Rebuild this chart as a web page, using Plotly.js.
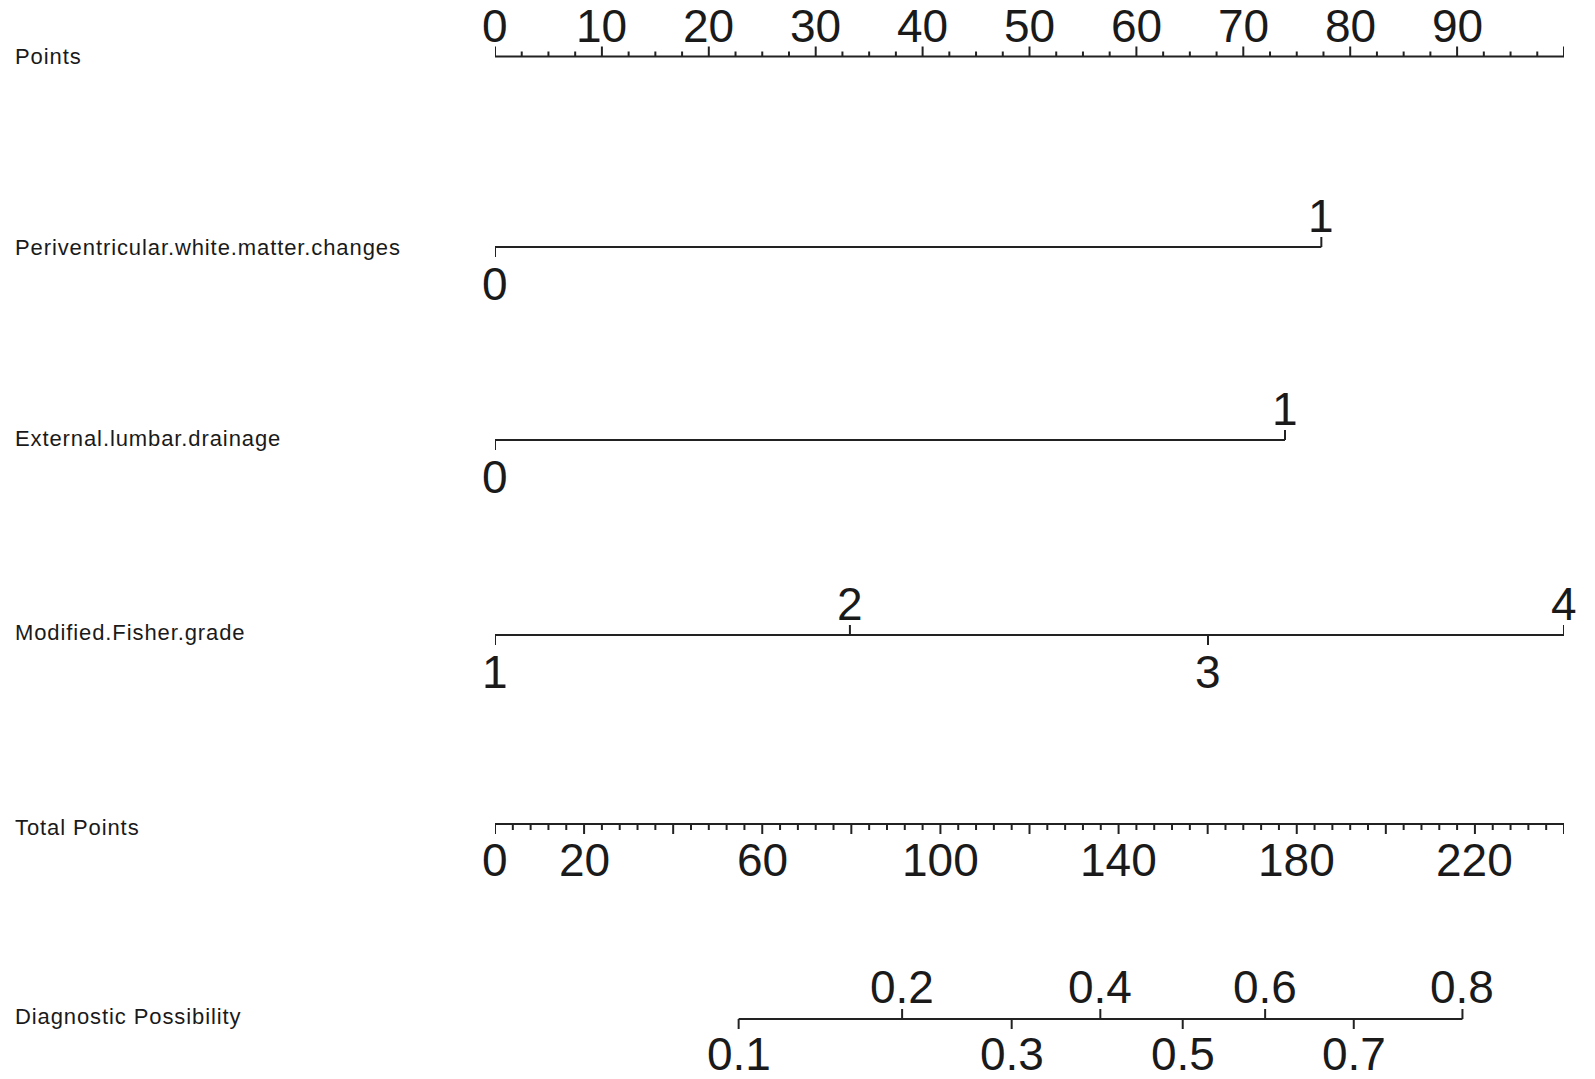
<!DOCTYPE html>
<html>
<head>
<meta charset="utf-8">
<script src="https://cdn.plot.ly/plotly-3.0.1.min.js"></script>
<style>
  html, body { margin: 0; padding: 0; background: #fff; }
  #chart { width: 1595px; height: 1079px; }
</style>
</head>
<body>
<div id="chart"></div>
<script>
// nomogram: every variable is read on the 0-100 "Points" scale

const rowLabels = ['Points', 'Periventricular.white.matter.changes', 'External.lumbar.drainage',
                   'Modified.Fisher.grade', 'Total Points', 'Diagnostic Possibility'];

// Points scale
const pointsMajor = [0, 10, 20, 30, 40, 50, 60, 70, 80, 90, 100];
const pointsLabels = ['0', '10', '20', '30', '40', '50', '60', '70', '80', '90', ''];
const pointsMinorStep = 2.5;

// variables: level labels and points
const pwmcLevels = ['0', '1'];
const pwmcPoints = [0, 77.3];
const pwmcSide = ['below', 'above'];

const eldLevels = ['0', '1'];
const eldPoints = [0, 73.9];
const eldSide = ['below', 'above'];

const fisherLevels = ['1', '2', '3', '4'];
const fisherPoints = [0, 33.2, 66.7, 100];
const fisherSide = ['below', 'above', 'below', 'above'];

// total points scale
const totalMax = 240;
const totalMajor = [0, 20, 40, 60, 80, 100, 120, 140, 160, 180, 200, 220, 240];
const totalLabels = ['0', '20', '', '60', '', '100', '', '140', '', '180', '', '220', ''];
const totalMinorStep = 4;

// probability scale (total points at each probability)
const probLabels = ['0.1', '0.2', '0.3', '0.4', '0.5', '0.6', '0.7', '0.8'];
const probTotals = [54.7, 91.4, 116.0, 135.9, 154.4, 172.9, 192.8, 217.2];
const probSide = ['below', 'above', 'below', 'above', 'below', 'above', 'below', 'above'];

// layout of rows (pixel y of each axis line, y axis is in pixels)
const ROW_Y = [56.5, 247, 440, 635, 824, 1019];
const LABEL_Y = [56, 247, 438.5, 632, 827, 1016];
const TICK_FONT = { family: 'Liberation Sans, Arial, sans-serif', size: 46, color: '#1a1a1a' };
const LEFT_FONT = { family: 'Liberation Sans, Arial, sans-serif', size: 22, color: '#1a1a1a' };
const LINE = { color: '#222', width: 2 };

const toPts = t => t * 100 / totalMax;

const traces = [];
const annotations = [];

function addSegments(xs, ys) {
    traces.push({
        x: xs, y: ys, mode: 'lines', type: 'scatter',
        line: LINE, hoverinfo: 'skip', showlegend: false,
    });
}

function addLabel(x, y, text) {
    if (!text) return;
    annotations.push({
        x: x, y: y, xref: 'x', yref: 'y', text: text, showarrow: false,
        font: TICK_FONT, xanchor: 'center', yanchor: 'middle',
    });
}

// generic axis line with ticks; dir = -1 ticks up, +1 ticks down
function drawScale(rowY, xs, lens, dirs) {
    const lx = [Math.min(...xs), Math.max(...xs), null];
    const ly = [rowY, rowY, null];
    xs.forEach((x, i) => {
        lx.push(x, x, null);
        ly.push(rowY, rowY + dirs[i] * lens[i], null);
    });
    addSegments(lx, ly);
}

// Points row
(function () {
    const xs = [], lens = [], dirs = [];
    for (let v = 0; v <= 100 + 1e-9; v += pointsMinorStep) {
        const major = pointsMajor.some(m => Math.abs(m - v) < 1e-6);
        xs.push(v); lens.push(major ? 10 : 5); dirs.push(-1);
    }
    drawScale(ROW_Y[0], xs, lens, dirs);
    pointsMajor.forEach((v, i) => addLabel(v, ROW_Y[0] - 31, pointsLabels[i]));
})();

// categorical variables
function drawVariable(rowY, levels, pts, sides) {
    const dirs = sides.map(s => (s === 'above' ? -1 : 1));
    drawScale(rowY, pts, pts.map(() => 10), dirs);
    pts.forEach((p, i) => addLabel(p, sides[i] === 'above' ? rowY - 31 : rowY + 37, levels[i]));
}
drawVariable(ROW_Y[1], pwmcLevels, pwmcPoints, pwmcSide);
drawVariable(ROW_Y[2], eldLevels, eldPoints, eldSide);
drawVariable(ROW_Y[3], fisherLevels, fisherPoints, fisherSide);

// Total Points row
(function () {
    const xs = [], lens = [], dirs = [];
    for (let v = 0; v <= totalMax + 1e-9; v += totalMinorStep) {
        const major = totalMajor.some(m => Math.abs(m - v) < 1e-6);
        xs.push(toPts(v)); lens.push(major ? 10 : 6); dirs.push(1);
    }
    drawScale(ROW_Y[4], xs, lens, dirs);
    totalMajor.forEach((v, i) => addLabel(toPts(v), ROW_Y[4] + 36, totalLabels[i]));
})();

// Diagnostic Possibility row
(function () {
    const xs = probTotals.map(toPts);
    const dirs = probSide.map(s => (s === 'above' ? -1 : 1));
    drawScale(ROW_Y[5], xs, xs.map(() => 10), dirs);
    xs.forEach((x, i) => addLabel(x, probSide[i] === 'above' ? ROW_Y[5] - 32 : ROW_Y[5] + 35, probLabels[i]));
})();

// left row names (slightly spaced out like the original)
rowLabels.forEach((t, i) => {
    annotations.push({
        x: 13, y: LABEL_Y[i], xref: 'paper', yref: 'y',
        text: '<span style="letter-spacing:0.9px">' + t + '</span>', showarrow: false,
        font: LEFT_FONT, xanchor: 'left', yanchor: 'middle',
    });
});

const layout = {
    width: 1595,
    height: 1079,
    margin: { l: 495, r: 30.5, t: 0, b: 0 },
    paper_bgcolor: '#fff',
    plot_bgcolor: '#fff',
    showlegend: false,
    xaxis: { range: [0, 100], visible: false, fixedrange: true },
    yaxis: { range: [1079, 0], visible: false, fixedrange: true },
    annotations: annotations,
};

// left labels use paper x in pixels -> convert to paper fraction
layout.annotations.forEach(a => {
    if (a.xref === 'paper') {
        a.x = (a.x - layout.margin.l) / (layout.width - layout.margin.l - layout.margin.r);
    }
});

Plotly.newPlot('chart', traces, layout, { staticPlot: true });
</script>
</body>
</html>
